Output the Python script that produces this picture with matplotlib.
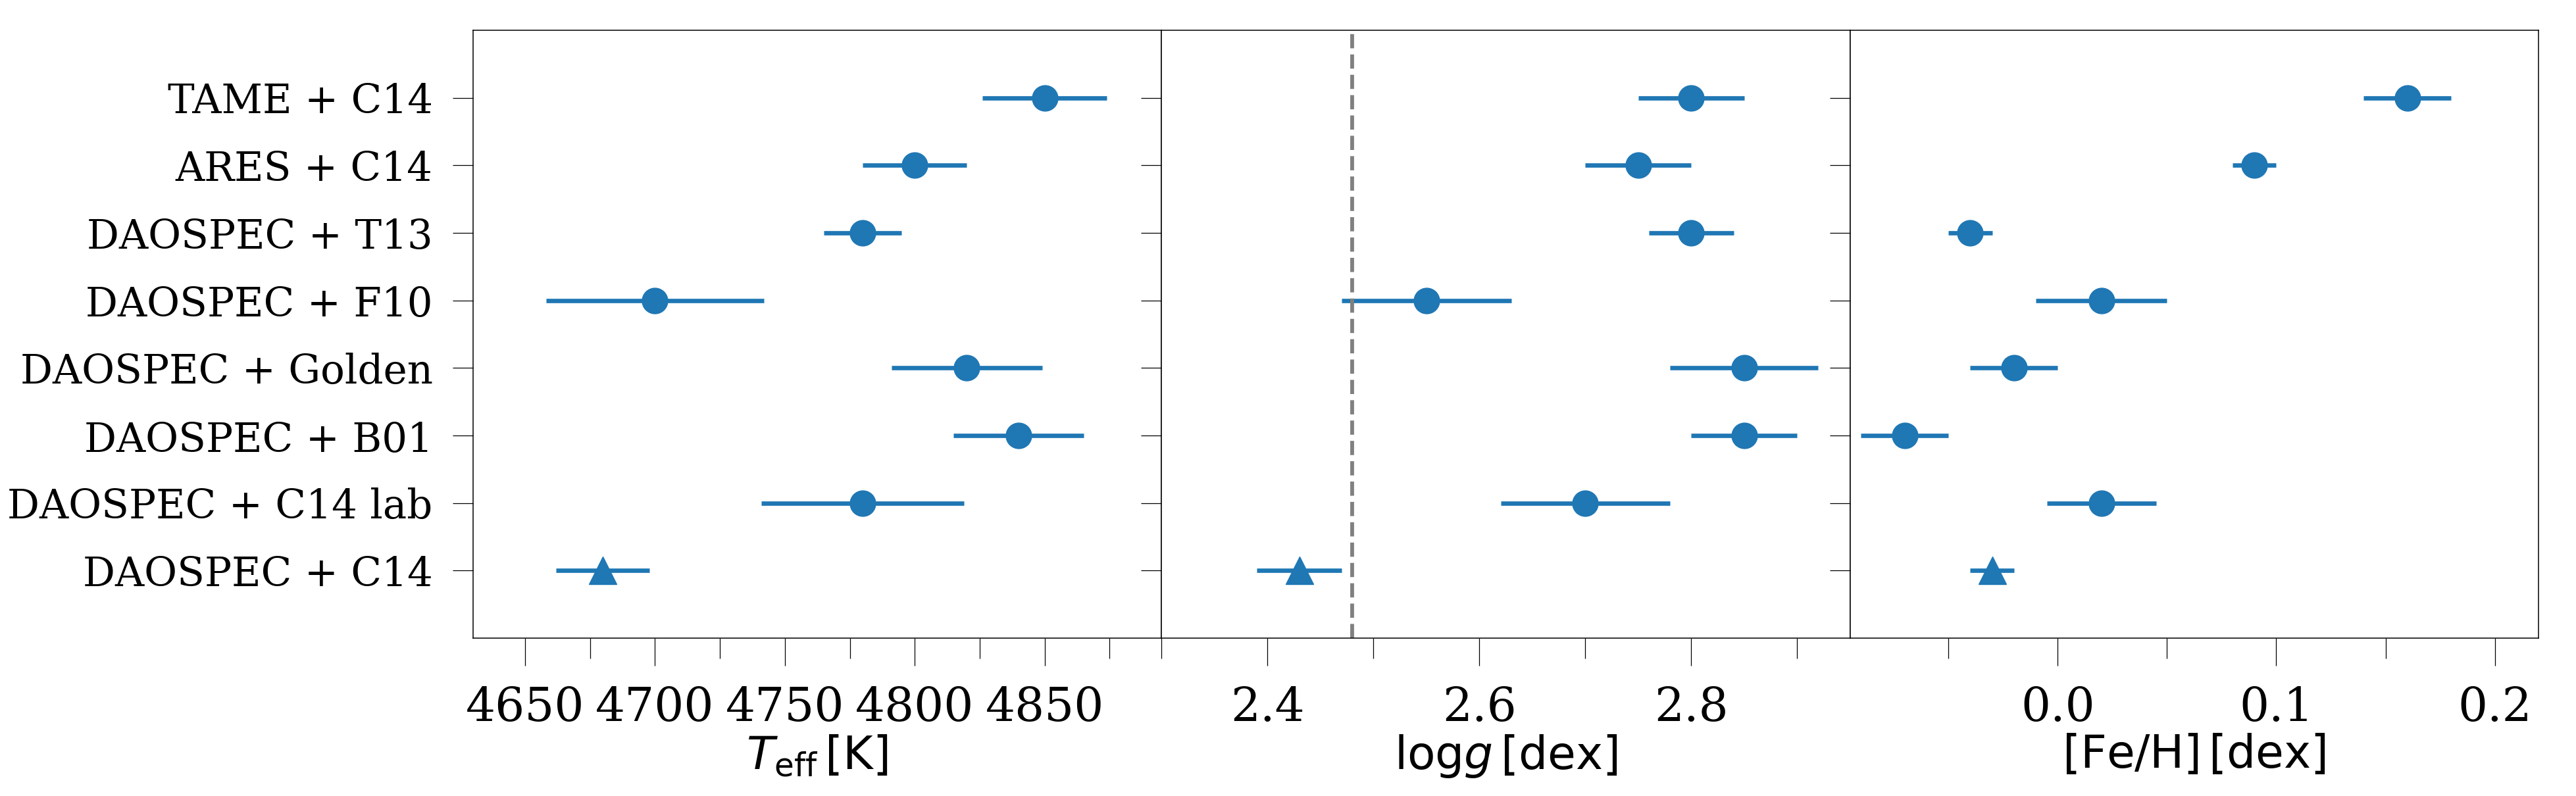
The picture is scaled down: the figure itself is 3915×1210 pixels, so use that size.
import matplotlib
matplotlib.use("Agg")
import matplotlib.pyplot as plt
from matplotlib.ticker import MultipleLocator

plt.rcParams['font.family'] = 'serif'
plt.rcParams['mathtext.fontset'] = 'dejavusans'
plt.rcParams['axes.linewidth'] = 1.1

methods = ["TAME + C14", "ARES + C14", "DAOSPEC + T13", "DAOSPEC + F10",
           "DAOSPEC + Golden", "DAOSPEC + B01", "DAOSPEC + C14 lab", "DAOSPEC + C14"]

teff = [4850, 4800, 4780, 4700, 4820, 4840, 4780, 4680]
teff_err = [24, 20, 15, 42, 29, 25, 39, 18]

logg = [2.80, 2.75, 2.80, 2.55, 2.85, 2.85, 2.70, 2.43]
logg_err = [0.05, 0.05, 0.04, 0.08, 0.07, 0.05, 0.08, 0.04]

feh = [0.16, 0.09, -0.04, 0.02, -0.02, -0.07, 0.02, -0.03]
feh_err = [0.02, 0.01, 0.01, 0.03, 0.02, 0.02, 0.025, 0.01]

logg_ref = 2.48

color = '#1f77b4'
ypos = list(range(len(methods)))[::-1]

fig, axes = plt.subplots(1, 3, figsize=(39.16, 12.1), dpi=100, sharey=True)
fig.subplots_adjust(left=0.1836, right=0.9852, top=0.962, bottom=0.1983, wspace=0)

panels = [(teff, teff_err), (logg, logg_err), (feh, feh_err)]
for ax, (vals, errs) in zip(axes, panels):
    # all but the last one are circles, the last (reference) is a triangle
    ax.errorbar(vals[:-1], ypos[:-1], xerr=errs[:-1], fmt='o', color=color,
                ms=28, elinewidth=4.8, capsize=0)
    ax.errorbar(vals[-1:], ypos[-1:], xerr=errs[-1:], fmt='^', color=color,
                ms=30, elinewidth=4.8, capsize=0)
    ax.tick_params(axis='x', which='major', direction='out', length=30, width=0.9,
                   pad=22, labelsize=51)
    ax.tick_params(axis='x', which='minor', direction='out', length=22, width=0.9)
    ax.tick_params(axis='y', direction='out', length=22, width=0.9, pad=22, labelsize=44)

axes[1].axvline(logg_ref, color='0.5', ls='--', lw=4.2)

axes[0].set_xlim(4630, 4895)
axes[0].xaxis.set_major_locator(MultipleLocator(50))
axes[0].xaxis.set_minor_locator(MultipleLocator(25))
axes[1].set_xlim(2.2999, 2.95)
axes[1].xaxis.set_major_locator(MultipleLocator(0.2))
axes[1].xaxis.set_minor_locator(MultipleLocator(0.1))
axes[2].set_xlim(-0.095, 0.22)
axes[2].xaxis.set_major_locator(MultipleLocator(0.1))
axes[2].xaxis.set_minor_locator(MultipleLocator(0.05))

axes[0].set_ylim(-1, len(methods))
axes[0].set_yticks(ypos)
axes[0].set_yticklabels(methods)

axes[0].set_xlabel(r'$T_{\rm eff}\,[{\rm K}]$', fontsize=50, labelpad=2)
axes[1].set_xlabel(r'${\rm log}g\,[{\rm dex}]$', fontsize=50, labelpad=2)
axes[2].set_xlabel(r'$[{\rm Fe/H}]\,[{\rm dex}]$', fontsize=50, labelpad=2)

plt.savefig('out.png')
